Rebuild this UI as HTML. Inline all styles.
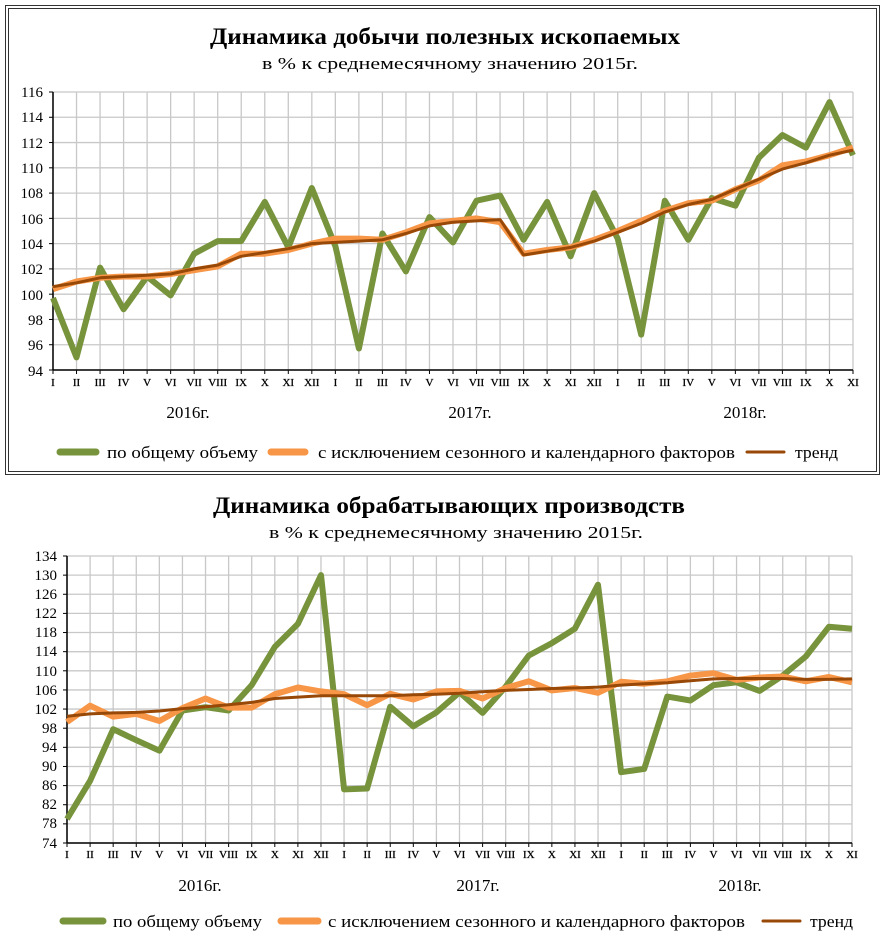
<!DOCTYPE html>
<html><head><meta charset="utf-8"><style>
html,body{margin:0;padding:0;background:#fff;}
svg{display:block;font-family:"Liberation Serif",serif;}
</style></head><body>
<svg id="s" width="885" height="942" viewBox="0 0 885 942">
<rect x="5.5" y="5.5" width="874" height="469" fill="none" stroke="#333" stroke-width="1"/>
<rect x="8.5" y="8.5" width="868" height="463" fill="none" stroke="#333" stroke-width="1"/>
<g id="g1"></g><g id="g2"></g>
<g font-weight="bold" font-size="23">
<text x="210" y="44" textLength="470" lengthAdjust="spacingAndGlyphs">Динамика добычи полезных ископаемых</text>
<text x="213" y="513" textLength="472" lengthAdjust="spacingAndGlyphs">Динамика обрабатывающих производств</text></g>
<g font-size="17">
<text x="262" y="69" textLength="376" lengthAdjust="spacingAndGlyphs">в % к среднемесячному значению 2015г.</text>
<text x="269" y="538" textLength="374" lengthAdjust="spacingAndGlyphs">в % к среднемесячному значению 2015г.</text>
</g>
<g font-size="17" text-anchor="middle">
<text x="188" y="418">2016г.</text><text x="470" y="418">2017г.</text><text x="745" y="418">2018г.</text>
<text x="200" y="891">2016г.</text><text x="478" y="891">2017г.</text><text x="740" y="891">2018г.</text>
</g>
<g font-size="15" text-anchor="end">
<text x="43" y="97">116</text><text x="43" y="122">114</text><text x="43" y="148">112</text><text x="43" y="173">110</text><text x="43" y="198">108</text><text x="43" y="224">106</text><text x="43" y="249">104</text><text x="43" y="274">102</text><text x="43" y="300">100</text><text x="43" y="325">98</text><text x="43" y="350">96</text><text x="43" y="376">94</text>
<text x="57" y="561">134</text><text x="57" y="580">130</text><text x="57" y="599">126</text><text x="57" y="618">122</text><text x="57" y="637">118</text><text x="57" y="656">114</text><text x="57" y="676">110</text><text x="57" y="695">106</text><text x="57" y="714">102</text><text x="57" y="733">98</text><text x="57" y="752">94</text><text x="57" y="771">90</text><text x="57" y="790">86</text><text x="57" y="809">82</text><text x="57" y="828">78</text><text x="57" y="848">74</text>
</g>
<g font-size="11" text-anchor="middle" stroke="#000" stroke-width="0.3">
<text x="53" y="386">I</text><text x="76.5" y="386">II</text><text x="100.1" y="386">III</text><text x="123.6" y="386">IV</text><text x="147.1" y="386">V</text><text x="170.6" y="386">VI</text><text x="194.2" y="386">VII</text><text x="217.7" y="386">VIII</text><text x="241.2" y="386">IX</text><text x="264.8" y="386">X</text><text x="288.3" y="386">XI</text><text x="311.8" y="386">XII</text><text x="335.4" y="386">I</text><text x="358.9" y="386">II</text><text x="382.4" y="386">III</text><text x="405.9" y="386">IV</text><text x="429.5" y="386">V</text><text x="453" y="386">VI</text><text x="476.5" y="386">VII</text><text x="500.1" y="386">VIII</text><text x="523.6" y="386">IX</text><text x="547.1" y="386">X</text><text x="570.6" y="386">XI</text><text x="594.2" y="386">XII</text><text x="617.7" y="386">I</text><text x="641.2" y="386">II</text><text x="664.8" y="386">III</text><text x="688.3" y="386">IV</text><text x="711.8" y="386">V</text><text x="735.3" y="386">VI</text><text x="758.9" y="386">VII</text><text x="782.4" y="386">VIII</text><text x="805.9" y="386">IX</text><text x="829.5" y="386">X</text><text x="853" y="386">XI</text>
<text x="67" y="858">I</text><text x="90.1" y="858">II</text><text x="113.2" y="858">III</text><text x="136.3" y="858">IV</text><text x="159.4" y="858">V</text><text x="182.5" y="858">VI</text><text x="205.5" y="858">VII</text><text x="228.6" y="858">VIII</text><text x="251.7" y="858">IX</text><text x="274.8" y="858">X</text><text x="297.9" y="858">XI</text><text x="321" y="858">XII</text><text x="344.1" y="858">I</text><text x="367.2" y="858">II</text><text x="390.3" y="858">III</text><text x="413.4" y="858">IV</text><text x="436.4" y="858">V</text><text x="459.5" y="858">VI</text><text x="482.6" y="858">VII</text><text x="505.7" y="858">VIII</text><text x="528.8" y="858">IX</text><text x="551.9" y="858">X</text><text x="575" y="858">XI</text><text x="598.1" y="858">XII</text><text x="621.2" y="858">I</text><text x="644.3" y="858">II</text><text x="667.3" y="858">III</text><text x="690.4" y="858">IV</text><text x="713.5" y="858">V</text><text x="736.6" y="858">VI</text><text x="759.7" y="858">VII</text><text x="782.8" y="858">VIII</text><text x="805.9" y="858">IX</text><text x="829" y="858">X</text><text x="852" y="858">XI</text>
</g>
<g stroke-linecap="round">
<line x1="60" y1="452" x2="96" y2="452" stroke="#77933c" stroke-width="7"/>
<line x1="271" y1="452" x2="305" y2="452" stroke="#f79646" stroke-width="7"/>
<line x1="747" y1="452" x2="784" y2="452" stroke="#984807" stroke-width="3"/>
<line x1="63" y1="921" x2="103" y2="921" stroke="#77933c" stroke-width="7"/>
<line x1="281" y1="921" x2="318" y2="921" stroke="#f79646" stroke-width="7"/>
<line x1="763" y1="921" x2="800" y2="921" stroke="#984807" stroke-width="3"/>
</g>
<g font-size="17">
<text x="107" y="458" textLength="151" lengthAdjust="spacingAndGlyphs">по общему объему</text>
<text x="318" y="458" textLength="417" lengthAdjust="spacingAndGlyphs">с исключением сезонного и календарного факторов</text>
<text x="795" y="458" textLength="43" lengthAdjust="spacingAndGlyphs">тренд</text>
<text x="113" y="927" textLength="149" lengthAdjust="spacingAndGlyphs">по общему объему</text>
<text x="328" y="927" textLength="417" lengthAdjust="spacingAndGlyphs">с исключением сезонного и календарного факторов</text>
<text x="810" y="927" textLength="43" lengthAdjust="spacingAndGlyphs">тренд</text>
</g>
</svg>
<script>
var NS="http://www.w3.org/2000/svg";
function el(g,t,a){var e=document.createElementNS(NS,t);for(var k in a)e.setAttribute(k,a[k]);g.appendChild(e);return e;}
function chart(id,x0,x1,yt,yb,vmin,vmax,step,series){
 var g=document.getElementById(id),dx=(x1-x0)/34;
 function Y(v){return yb-(v-vmin)/(vmax-vmin)*(yb-yt);}
 for(var i=0;i<35;i++){var x=x0+i*dx;el(g,"line",{x1:x,y1:yt,x2:x,y2:yb,stroke:"#c8c8c8","stroke-width":1.3});el(g,"line",{x1:x,y1:yb,x2:x,y2:yb+4,stroke:"#000"});}
 for(var v=vmin;v<=vmax;v+=step){var y=Y(v);el(g,"line",{x1:x0,y1:y,x2:x1,y2:y,stroke:"#c8c8c8","stroke-width":1.3});el(g,"line",{x1:x0-4,y1:y,x2:x0,y2:y,stroke:"#000"});}
 el(g,"line",{x1:x0,y1:yt,x2:x0,y2:yb,stroke:"#000","stroke-width":1.5});
 el(g,"line",{x1:x0,y1:yb,x2:x1,y2:yb,stroke:"#000","stroke-width":1.5});
 series.forEach(function(s){var p=s.d.map(function(v,i){return (x0+i*dx).toFixed(1)+","+Y(v).toFixed(1);}).join(" ");
  el(g,"polyline",{points:p,fill:"none",stroke:s.c,"stroke-width":s.w,"stroke-linejoin":"round"});});
}
chart("g1",53,853,92,370,94,116,2,[
{c:"#77933c",w:6,d:[99.7,95,102.1,98.8,101.4,99.9,103.2,104.2,104.2,107.3,103.7,108.4,103.8,95.7,104.8,101.8,106.1,104.1,107.4,107.8,104.3,107.3,103,108,104.4,96.8,107.4,104.3,107.6,107,110.8,112.6,111.6,115.2,111]},
{c:"#f79646",w:6,d:[100.4,101,101.3,101.4,101.4,101.6,101.9,102.2,103.2,103.2,103.5,104,104.4,104.4,104.3,104.9,105.6,105.8,106,105.7,103.2,103.5,103.7,104.3,105,105.8,106.6,107.2,107.4,108.3,109,110.2,110.5,111,111.6]},
{c:"#984807",w:3,d:[100.6,100.9,101.3,101.4,101.5,101.6,102,102.3,103,103.3,103.6,104,104.1,104.2,104.3,104.8,105.4,105.7,105.8,105.9,103.1,103.4,103.7,104.2,104.9,105.6,106.5,107.1,107.5,108.3,109.1,109.9,110.4,111,111.4]}]);
chart("g2",67,852,556,843,74,134,4,[
{c:"#77933c",w:6,d:[79,87,97.8,95.5,93.3,101.7,102.4,101.7,107,115,119.8,130,85.2,85.4,102.5,98.4,101.3,105.5,101.2,106.7,113.2,115.8,118.8,128,88.8,89.5,104.6,103.8,107,107.6,105.8,109,113,119.2,118.8]},
{c:"#f79646",w:6,d:[99.3,102.7,100.4,101,99.5,102.2,104.2,102.3,102.3,105.1,106.5,105.7,105.1,102.8,105.2,104,105.7,105.8,104.2,106.4,107.8,105.9,106.4,105.4,107.7,107.3,107.8,109,109.5,108.1,108.6,108.8,107.8,108.7,107.6]},
{c:"#984807",w:3,d:[100.5,101,101.2,101.3,101.6,102.1,102.5,102.9,103.4,104.2,104.5,104.8,104.8,104.8,104.8,105,105.1,105.3,105.6,105.9,106.1,106.3,106.4,106.6,107,107.3,107.5,107.9,108.3,108.4,108.4,108.4,108.2,108.2,108.3]}]);
</script>
</body></html>
